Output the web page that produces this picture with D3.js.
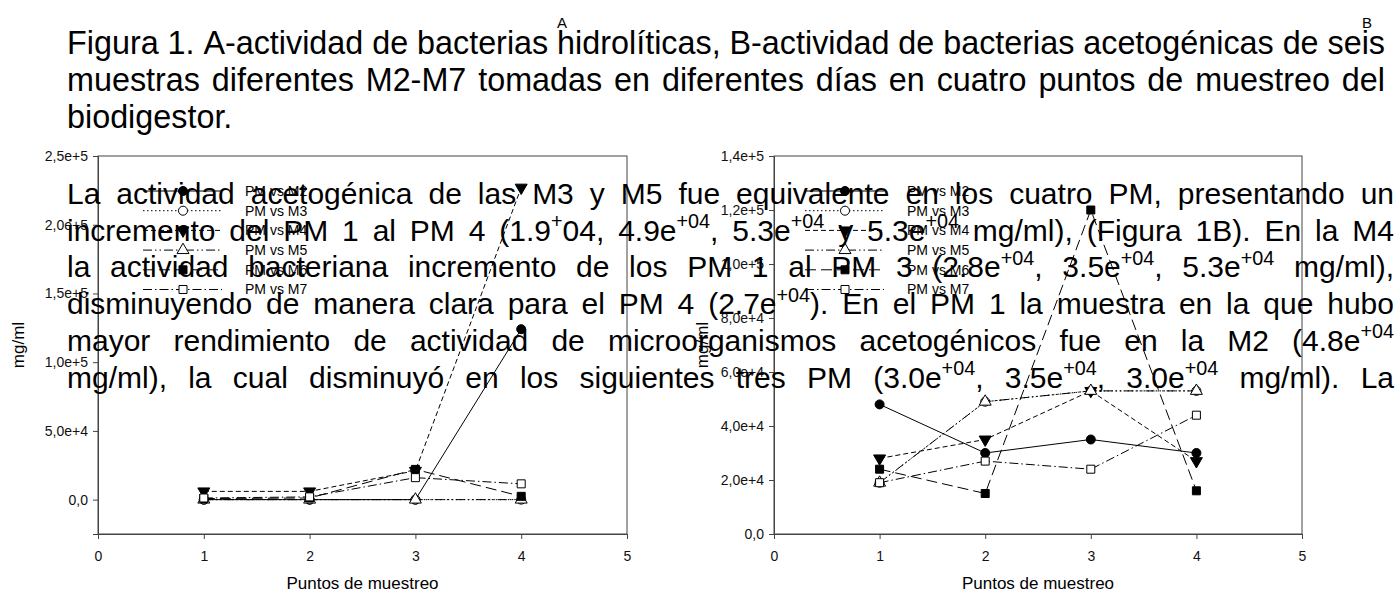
<!DOCTYPE html>
<html>
<head>
<meta charset="utf-8">
<script src="https://cdn.jsdelivr.net/npm/d3@7"></script>
<style>
  body { margin: 0; background: #fff; }
  svg { display: block; }
</style>
</head>
<body>
<script>
const W = 1400, H = 594

// data
const puntos = [1, 2, 3, 4]
const series = ['PM vs M2', 'PM vs M3', 'PM vs M4', 'PM vs M5', 'PM vs M6', 'PM vs M7']

// A - bacterias hidrolíticas
const valoresA = [
    [0, 0, 0, 124000],
    [0, 0, 0, 0],
    [6000, 6000, 21000, 227000],
    [0, 0, 0, 0],
    [800, 1200, 22000, 2400],
    [1200, 2000, 16000, 11500],
]
// B - bacterias acetogénicas
const valoresB = [
    [48000, 30000, 35000, 30000],
    [19000, 49000, 53000, 53000],
    [28000, 35000, 53000, 27000],
    [19000, 49000, 53000, 53000],
    [24000, 15000, 120000, 16000],
    [19000, 27000, 24000, 44000],
]

const xTicks = [0, 1, 2, 3, 4, 5]
const ticksA = [0, 50000, 100000, 150000, 200000, 250000]
const tickLabelsA = ['0,0', '5,0e+4', '1,0e+5', '1,5e+5', '2,0e+5', '2,5e+5']
const ticksB = [0, 20000, 40000, 60000, 80000, 100000, 120000, 140000]
const tickLabelsB = ['0,0', '2,0e+4', '4,0e+4', '6,0e+4', '8,0e+4', '1,0e+5', '1,2e+5', '1,4e+5']

const tituloLineas = [
    'Figura 1. A-actividad de bacterias hidrolíticas, B-actividad de bacterias acetogénicas de seis',
    'muestras diferentes M2-M7 tomadas en diferentes días en cuatro puntos de muestreo del',
    'biodigestor.',
]
// {..} marks superscript
const parrafo = [
    'La actividad acetogénica de las M3 y M5 fue equivalente en los cuatro PM, presentando un',
    'incremento del PM 1 al PM 4 (1.9{+}04, 4.9e{+04}, 5.3e{+04} y 5.3e{+04} mg/ml), (Figura 1B). En la M4',
    'la actividad bacteriana incremento de los PM 1 al PM 3 (2.8e{+04}, 3.5e{+04}, 5.3e{+04} mg/ml),',
    'disminuyendo de manera clara para el PM 4 (2.7e{+04}). En el PM 1 la muestra en la que hubo',
    'mayor rendimiento de actividad de microorganismos acetogénicos fue en la M2 (4.8e{+04}',
    'mg/ml), la cual disminuyó en los siguientes tres PM (3.0e{+04}, 3.5e{+04}, 3.0e{+04} mg/ml). La',
]

const FONT = '"Liberation Sans", Arial, sans-serif'
const estilos = [
    { simbolo: d3.symbolCircle, lleno: true, dash: null },
    { simbolo: d3.symbolCircle, lleno: false, dash: '1.5,2.5' },
    { simbolo: d3.symbolTriangle, lleno: true, dash: '5,3', rot: 180 },
    { simbolo: d3.symbolTriangle, lleno: false, dash: '9,3,1.5,3,1.5,3' },
    { simbolo: d3.symbolSquare, lleno: true, dash: '11,5' },
    { simbolo: d3.symbolSquare, lleno: false, dash: '9,3,1.5,3' },
]

const svg = d3.select('body').append('svg')
    .attr('width', W)
    .attr('height', H)
    .attr('viewBox', [0, 0, W, H])
    .attr('font-family', FONT)

function drawPanel(cfg) {
    const x = d3.scaleLinear().domain([0, 5]).range([cfg.left, cfg.right])
    const y = d3.scaleLinear().domain(cfg.yDomain).range([cfg.bottom, cfg.top])
    const g = svg.append('g')

    // frame
    g.append('rect')
        .attr('x', cfg.left).attr('y', cfg.top)
        .attr('width', cfg.right - cfg.left).attr('height', cfg.bottom - cfg.top)
        .attr('fill', 'none').attr('stroke', '#444')

    const yAxis = g.append('g')
        .attr('transform', `translate(${cfg.left},0)`)
        .call(d3.axisLeft(y).tickValues(cfg.ticks)
            .tickFormat((d, i) => cfg.tickLabels[i])
            .tickSizeOuter(0).tickSize(5).tickPadding(5))
    const xAxis = g.append('g')
        .attr('transform', `translate(0,${cfg.bottom})`)
        .call(d3.axisBottom(x).tickValues(xTicks)
            .tickFormat(d3.format('d'))
            .tickSizeOuter(0).tickSize(5).tickPadding(12))
    for (const ax of [yAxis, xAxis]) {
        ax.attr('font-family', FONT).attr('font-size', 14)
        ax.selectAll('path, line').attr('stroke', '#444')
        ax.selectAll('text').attr('fill', '#111')
    }

    g.append('text')
        .attr('x', (cfg.left + cfg.right) / 2).attr('y', cfg.bottom + 55)
        .attr('text-anchor', 'middle').attr('font-size', 17)
        .text('Puntos de muestreo')
    g.append('text')
        .attr('transform', `translate(${cfg.yLabelX},${(cfg.top + cfg.bottom) / 2}) rotate(-90)`)
        .attr('text-anchor', 'middle').attr('dy', '0.35em').attr('font-size', 17)
        .text('mg/ml')

    const line = d3.line().x((d, i) => x(puntos[i])).y(d => y(d))

    cfg.valores.forEach((vals, s) => {
        const st = estilos[s]
        g.append('path')
            .attr('d', line(vals))
            .attr('fill', 'none').attr('stroke', '#000').attr('stroke-width', 1)
            .attr('stroke-dasharray', st.dash)
        g.selectAll(null)
            .data(vals)
            .join('path')
                .attr('d', d3.symbol(st.simbolo, st.simbolo === d3.symbolTriangle ? 62 : 64))
                .attr('transform', (d, i) => `translate(${x(puntos[i])},${y(d)}) rotate(${st.rot || 0})`)
                .attr('fill', st.lleno ? '#000' : '#fff')
                .attr('stroke', '#000').attr('stroke-width', 1)
    })

    // legend
    const lg = g.append('g')
    series.forEach((name, s) => {
        const st = estilos[s]
        const ly = cfg.legendTop + s * 19.7
        lg.append('line')
            .attr('x1', cfg.legendX).attr('x2', cfg.legendX + 79)
            .attr('y1', ly).attr('y2', ly)
            .attr('stroke', '#000').attr('stroke-dasharray', st.dash)
        lg.append('path')
            .attr('d', d3.symbol(st.simbolo, st.simbolo === d3.symbolTriangle ? 62 : 64))
            .attr('transform', `translate(${cfg.legendX + 40},${ly}) rotate(${st.rot || 0})`)
            .attr('fill', st.lleno ? '#000' : '#fff')
            .attr('stroke', '#000')
        lg.append('text')
            .attr('x', cfg.legendX + 102).attr('y', ly).attr('dy', '0.35em')
            .attr('font-size', 14)
            .text(name)
    })
}

drawPanel({
    left: 98, right: 627, top: 156, bottom: 534,
    yDomain: [-25000, 250000], ticks: ticksA, tickLabels: tickLabelsA,
    valores: valoresA, yLabelX: 18, legendX: 143, legendTop: 191,
})
drawPanel({
    left: 774, right: 1302, top: 156, bottom: 534,
    yDomain: [0, 140000], ticks: ticksB, tickLabels: tickLabelsB,
    valores: valoresB, yLabelX: 702, legendX: 805, legendTop: 191,
})

// panel letters
svg.append('text').attr('x', 562).attr('y', 28).attr('text-anchor', 'middle')
    .attr('font-size', 15).text('A')
svg.append('text').attr('x', 1367).attr('y', 28).attr('text-anchor', 'middle')
    .attr('font-size', 15).text('B')

// writes one line word by word, spreading the gaps when justified
function writeLine(g, str, x0, x1, y, size, justify) {
    const words = str.split(' ')
    const nodes = words.map(w => {
        const t = g.append('text').attr('y', y).attr('font-size', size)
        const parts = w.split(/\{([^}]*)\}/)
        let raised = false
        parts.forEach((p, i) => {
            if (!p) return
            const sup = i % 2 === 1
            const ts = t.append('tspan').text(p)
            if (sup) {
                ts.attr('font-size', size * 0.66).attr('dy', -size * 0.42)
                raised = true
            } else if (raised) {
                ts.attr('dy', size * 0.42)
                raised = false
            }
        })
        return t
    })
    const widths = nodes.map(n => n.node().getComputedTextLength())
    const total = d3.sum(widths)
    const space = size * 0.278
    const gap = justify && words.length > 1 ? (x1 - x0 - total) / (words.length - 1) : space
    let cx = x0
    nodes.forEach((n, i) => {
        n.attr('x', cx)
        n.selectAll('tspan').filter((d, j) => j === 0).attr('x', cx)
        cx += widths[i] + gap
    })
}

// title: sized so the first line fills the measure
const probe = svg.append('text').attr('font-size', 30).text(tituloLineas[0])
const fTitulo = 30 * 1318 / probe.node().getComputedTextLength()
probe.remove()
const gt = svg.append('g')
tituloLineas.forEach((l, i) => {
    writeLine(gt, l, 67, 1385, 54 + i * 37, fTitulo, i < 2)
})

const gp = svg.append('g')
parrafo.forEach((l, i) => {
    writeLine(gp, l, 67, 1394, 204 + i * 36.7, 30, true)
})
</script>
</body>
</html>
